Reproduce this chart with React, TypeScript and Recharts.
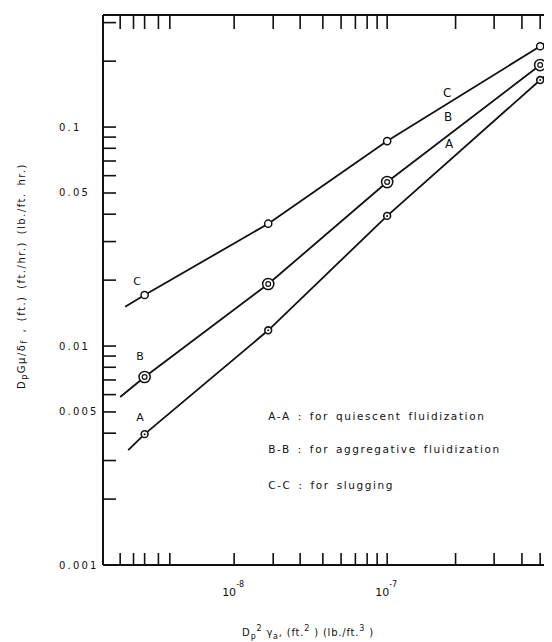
import React from 'react';
import { ComposedChart, Line, Scatter, XAxis, YAxis, ReferenceDot } from 'recharts';

// measured points (x = Dp^2 * gamma, y = DpGmu/delta)
const xMeasured = [2.6e-9, 1.67e-8, 1.0e-7, 1.0e-6];
const ySlugging = [0.0171, 0.0362, 0.0863, 0.234];
const yAggregative = [0.00722, 0.0192, 0.0561, 0.192];
const yQuiescent = [0.00396, 0.0118, 0.0393, 0.164];

// where each drawn line starts (left) and leaves the frame (right)
const lineStartX = [1.94e-9, 1.8e-9, 2.03e-9];
const lineStartY = [0.0151, 0.00585, 0.00335];
const lineEndX = 1.25e-6;
const lineEndY = [0.258, 0.216, 0.187];

// axis ticks
const xMajor = [1e-8, 1e-7];
const xMinor = [1.8e-9, 2.2e-9, 2.6e-9, 3.2e-9, 3.8e-9, 1.8e-8, 2.7e-8, 3.8e-8, 5e-8, 6.2e-8, 7.4e-8, 8.6e-8, 2.8e-7, 5e-7, 7.6e-7, 1e-6];
const yLabeled = [0.001, 0.005, 0.01, 0.05, 0.1];
const yMinor = [0.002, 0.003, 0.004, 0.006, 0.007, 0.008, 0.009, 0.02, 0.03, 0.04, 0.06, 0.07, 0.08, 0.09, 0.2, 0.3];

// curve letters near the lines
const curveTags = ['C', 'B', 'A'];
const tagRightX = [2.47e-7, 2.5e-7, 2.54e-7];
const tagRightY = [0.143, 0.111, 0.0836];
const tagLeftX = [2.32e-9, 2.43e-9, 2.43e-9];
const tagLeftY = [0.0198, 0.009, 0.00474];

const notes = ['A-A : for quiescent fluidization', 'B-B : for aggregative fluidization', 'C-C : for slugging'];
const notesX = 1.67e-8;
const notesY = [0.00478, 0.00338, 0.00232];

const xDomain = [1.39e-9, 1.25e-6];
const yDomain = [0.001, 0.325];

const font = '"DejaVu Sans", sans-serif';
const ink = '#111';

const toPts = (xs: number[], ys: number[]) => xs.map((x, i) => ({ x, y: ys[i] }));

const BottomTick = (props: any) => {
  const { x, y, payload } = props;
  const v = payload.value;
  const major = xMajor.includes(v);
  return (
    <g>
      <line x1={x} x2={x} y1={y} y2={y - 12} stroke={ink} strokeWidth={1.6} />
      {major && (
        <text x={x - 12} y={y + 31} fontSize={11} fontFamily={font} fill={ink}>
          10
          <tspan dy={-9} fontSize={8}>{'-' + Math.abs(Math.round(Math.log10(v)))}</tspan>
        </text>
      )}
    </g>
  );
};

const TopTick = (props: any) => {
  const { x, y } = props;
  return <line x1={x} x2={x} y1={y} y2={y + 14} stroke={ink} strokeWidth={1.6} />;
};

const LeftTick = (props: any) => {
  const { x, y, payload } = props;
  const v = payload.value;
  const labeled = yLabeled.includes(v);
  return (
    <g>
      {v !== 0.001 && <line x1={x} x2={x + 13} y1={y} y2={y} stroke={ink} strokeWidth={1.6} />}
      {labeled && (
        <text x={x - 44} y={y} dominantBaseline="central" fontSize={10} letterSpacing={2.2} fontFamily={font} fill={ink}>
          {String(v)}
        </text>
      )}
    </g>
  );
};

const RightTick = (props: any) => {
  const { x, y } = props;
  return <line x1={x} x2={x - 8} y1={y} y2={y} stroke={ink} strokeWidth={1.6} />;
};

const openCircle = (p: any) => (
  <circle cx={p.cx} cy={p.cy} r={3.6} fill="#fff" stroke={ink} strokeWidth={1.5} />
);
const doubleCircle = (p: any) => (
  <g>
    <circle cx={p.cx} cy={p.cy} r={5.6} fill="#fff" stroke={ink} strokeWidth={1.5} />
    <circle cx={p.cx} cy={p.cy} r={2.4} fill="none" stroke={ink} strokeWidth={1.2} />
  </g>
);
const dotCircle = (p: any) => (
  <g>
    <circle cx={p.cx} cy={p.cy} r={3.4} fill="#fff" stroke={ink} strokeWidth={1.6} />
    <circle cx={p.cx} cy={p.cy} r={1} fill={ink} />
  </g>
);

const tagShape = (txt: string, size: number) => (p: any) => (
  <text x={p.cx} y={p.cy} textAnchor="middle" dominantBaseline="central" fontSize={size} fontFamily={font} fill={ink}>
    {txt}
  </text>
);

const noteShape = (txt: string) => (p: any) => (
  <text x={p.cx} y={p.cy} dominantBaseline="central" fontSize={10.5} letterSpacing={1.6} wordSpacing={2} fontFamily={font} fill={ink}>
    {txt}
  </text>
);

const YTitle = (props: any) => (
  <text
    transform="translate(13,268) rotate(-90)"
    textAnchor="middle"
    dominantBaseline="central"
    fontSize={10}
    letterSpacing={1.5}
    wordSpacing={2}
    fontFamily={font}
    fill={ink}
  >
    D<tspan fontSize={8} dy={3}>p</tspan>
    <tspan dy={-3}>Gμ/δ</tspan>
    <tspan fontSize={8} dy={3}>f</tspan>
    <tspan dy={-3}>{' ,  (ft.) (ft./hr.)  (lb./ft. hr.)'}</tspan>
  </text>
);

const XTitle = (props: any) => (
  <text x={300} y={628} textAnchor="middle" fontSize={10} letterSpacing={0.8} fontFamily={font} fill={ink}>
    D<tspan fontSize={8} dy={3}>p</tspan>
    <tspan fontSize={8} dy={-8}>2</tspan>
    <tspan dy={5}> γ</tspan>
    <tspan fontSize={8} dy={3}>a</tspan>
    <tspan dy={-3}>{', (ft.'}</tspan>
    <tspan fontSize={8} dy={-5}>2</tspan>
    <tspan dy={5}>{' )  (lb./ft.'}</tspan>
    <tspan fontSize={8} dy={-5}>3</tspan>
    <tspan dy={5}>{' )'}</tspan>
  </text>
);

export default function App() {
  const ys = [ySlugging, yAggregative, yQuiescent];
  const shapes = [openCircle, doubleCircle, dotCircle];
  const series = ys.map((y, i) => ({ pts: toPts(xMeasured, y), shape: shapes[i] }));
  // hand-drawn lines run through the plotted points
  const lines = ys.map((y, i) =>
    toPts([lineStartX[i], ...xMeasured, lineEndX], [lineStartY[i], ...y, lineEndY[i]])
  );

  return (
    <div style={{ width: 544, height: 634, overflow: 'hidden', background: '#fff' }}>
      <ComposedChart width={560} height={634} margin={{ top: 0, right: 0, bottom: 0, left: 0 }}>
        <XAxis
          dataKey="x"
          type="number"
          scale="log"
          domain={xDomain}
          allowDataOverflow
          ticks={[...xMinor, ...xMajor]}
          interval={0}
          tick={BottomTick}
          tickSize={0}
          tickMargin={0}
          tickLine={false}
          axisLine={{ stroke: ink, strokeWidth: 2 }}
          height={77}
          label={XTitle}
        />
        <XAxis
          xAxisId="top"
          orientation="top"
          dataKey="x"
          type="number"
          scale="log"
          domain={xDomain}
          allowDataOverflow
          ticks={[...xMinor, ...xMajor]}
          interval={0}
          tick={TopTick}
          tickSize={0}
          tickMargin={0}
          tickLine={false}
          axisLine={{ stroke: ink, strokeWidth: 2 }}
          height={7}
        />
        <YAxis
          dataKey="y"
          type="number"
          scale="log"
          domain={yDomain}
          allowDataOverflow
          ticks={[...yLabeled, ...yMinor]}
          interval={0}
          tick={LeftTick}
          tickSize={0}
          tickMargin={0}
          tickLine={false}
          axisLine={{ stroke: ink, strokeWidth: 2 }}
          width={95}
          label={YTitle}
        />
        <YAxis
          yAxisId="right"
          orientation="right"
          dataKey="y"
          type="number"
          scale="log"
          domain={yDomain}
          allowDataOverflow
          ticks={[...yLabeled, ...yMinor]}
          interval={0}
          tick={RightTick}
          tickSize={0}
          tickMargin={0}
          tickLine={false}
          axisLine={{ stroke: ink, strokeWidth: 2 }}
          width={13}
        />
        {lines.map((d, i) => (
          <Line
            key={'l' + i}
            data={d}
            dataKey="y"
            type="linear"
            stroke={ink}
            strokeWidth={1.8}
            dot={false}
            activeDot={false}
            isAnimationActive={false}
          />
        ))}
        {series.map((s, i) => (
          <Scatter key={'s' + i} data={s.pts} dataKey="y" shape={s.shape} isAnimationActive={false} />
        ))}
        {curveTags.map((t, i) => (
          <ReferenceDot key={'tr' + i} x={tagRightX[i]} y={tagRightY[i]} shape={tagShape(t, 12)} />
        ))}
        {curveTags.map((t, i) => (
          <ReferenceDot key={'tl' + i} x={tagLeftX[i]} y={tagLeftY[i]} shape={tagShape(t, 11)} />
        ))}
        {notes.map((n, i) => (
          <ReferenceDot key={'n' + i} x={notesX} y={notesY[i]} shape={noteShape(n)} />
        ))}
      </ComposedChart>
    </div>
  );
}
